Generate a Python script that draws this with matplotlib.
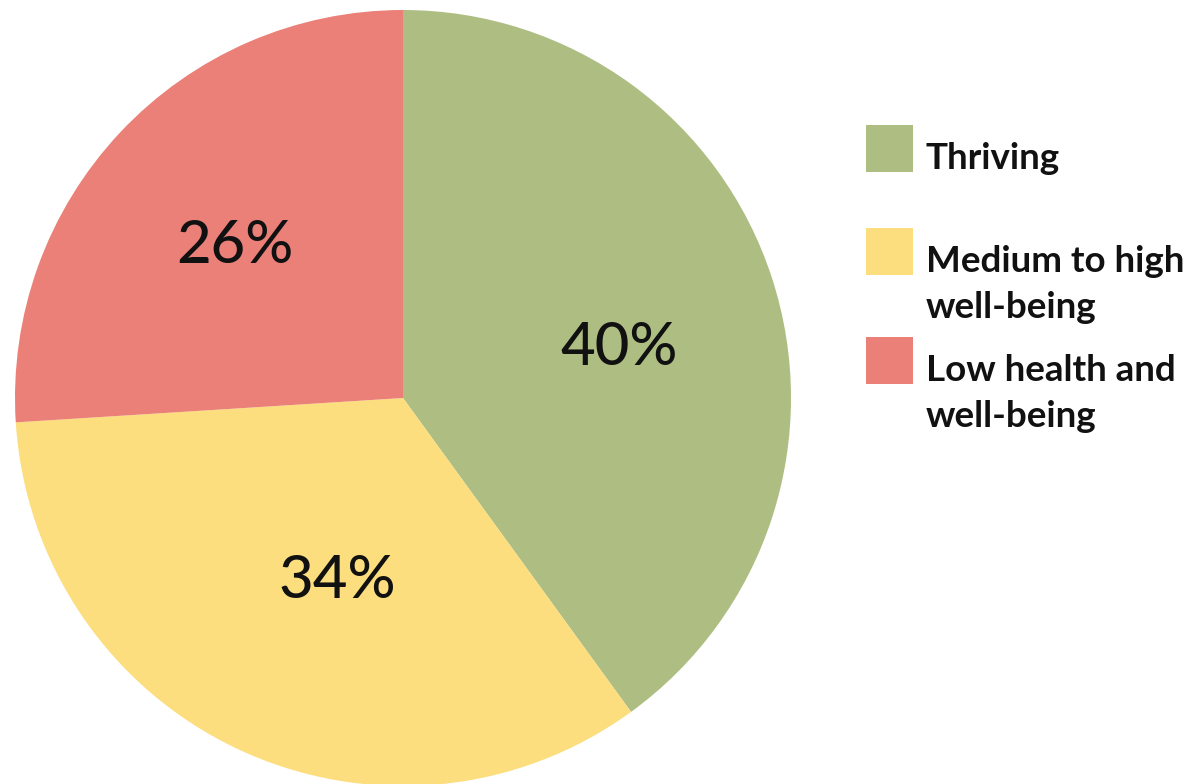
import numpy as np
import matplotlib
matplotlib.use("Agg")
import matplotlib.pyplot as plt
from matplotlib.patches import Rectangle

# data
labels = ["Thriving", "Medium to high\nwell-being", "Low health and\nwell-being"]
shares = [40, 34, 26]
colors = ["#AEBE83", "#FCDE7E", "#EA8077"]
# label placement (distance from centre, angle nudge in degrees)
pct_dist = [0.573, 0.494, 0.589]
pct_nudge = [-4.2, 5.1, 0.5]

plt.rcParams["font.family"] = ["Lato", "DejaVu Sans"]

fig = plt.figure(figsize=(12.04, 7.84), dpi=100)
W, H = 1204, 784

# pie axes: centre (403, 398) px, radius 388 px
r_px = 388
cx, cy = 403, 398
ax = fig.add_axes([(cx - r_px) / W, (H - cy - r_px) / H, 2 * r_px / W, 2 * r_px / H])
ax.axis("off")

wedges, _ = ax.pie(shares, colors=colors, startangle=90, counterclock=False,
                   radius=1, center=(0, 0), frame=False,
                   wedgeprops=dict(linewidth=0, antialiased=True))
ax.set_xlim(-1, 1)
ax.set_ylim(-1, 1)
ax.set_aspect("equal")

half_digit = 20 / r_px
for w, v, d, n in zip(wedges, shares, pct_dist, pct_nudge):
    ang = np.deg2rad((w.theta1 + w.theta2) / 2 + n)
    ax.text(d * np.cos(ang), d * np.sin(ang) - half_digit, f"{v}%", ha="center",
            va="baseline", fontsize=43, fontweight="medium", color="#111111")

# legend drawn manually
sq_tops = [125, 228, 337]
sq = 47
for top, lab, c in zip(sq_tops, labels, colors):
    fig.patches.append(Rectangle((866 / W, (H - top - sq) / H), sq / W, sq / H,
                                 transform=fig.transFigure, facecolor=c,
                                 edgecolor="none"))
    for i, ln in enumerate(lab.split("\n")):
        fig.text(926 / W, (H - (top + 44 + 46 * i)) / H, ln, ha="left",
                 va="baseline", fontsize=26.5, fontweight="bold", color="#111111")

fig.savefig("out.png", dpi=100)
